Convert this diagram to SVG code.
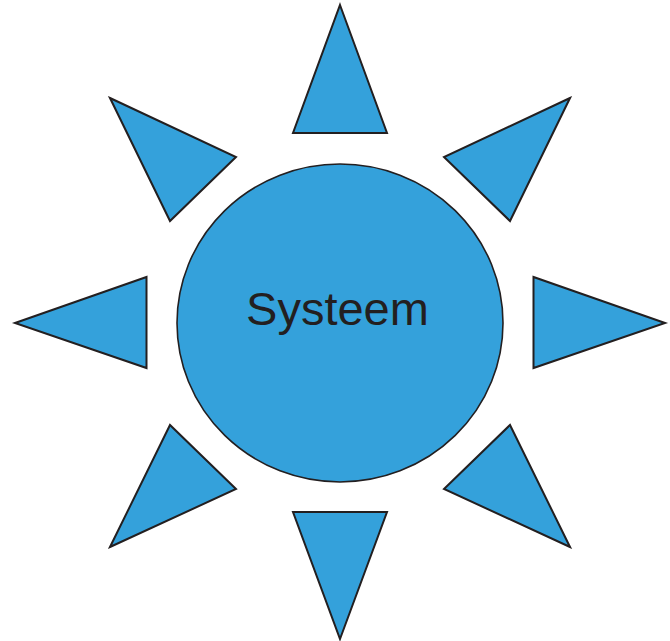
<svg xmlns="http://www.w3.org/2000/svg" width="670" height="641" viewBox="0 0 670 641">
<style>
.ray{fill:#34a1db;stroke:#231f20;stroke-width:2;stroke-linejoin:miter}
.core{fill:#34a1db;stroke:#231f20;stroke-width:1.6}
.lbl{font-family:"Liberation Sans",Arial,sans-serif;font-size:47px;fill:#231f20}
</style>
<rect width="670" height="641" fill="#ffffff"/>
<g id="ray-n"><polygon class="ray" points="340,5 387,133 293,133"/></g>
<g id="ray-s"><polygon class="ray" points="340,639 387,512 293,512"/></g>
<g id="ray-w"><polygon class="ray" points="15,323 146.5,277 146.5,368"/></g>
<g id="ray-e"><polygon class="ray" points="665,323 533.5,277 533.5,368"/></g>
<g id="ray-nw"><polygon class="ray" points="110,98 236,157 170,221"/></g>
<g id="ray-ne"><polygon class="ray" points="570,98 444,157 510,221"/></g>
<g id="ray-sw"><polygon class="ray" points="110,547 236,489 170,425"/></g>
<g id="ray-se"><polygon class="ray" points="570,547 444,489 510,425"/></g>
<g id="systeem">
<ellipse class="core" cx="340" cy="323" rx="163" ry="159"/>
<text class="lbl" x="337.5" y="325" text-anchor="middle">Systeem</text>
</g>
</svg>
